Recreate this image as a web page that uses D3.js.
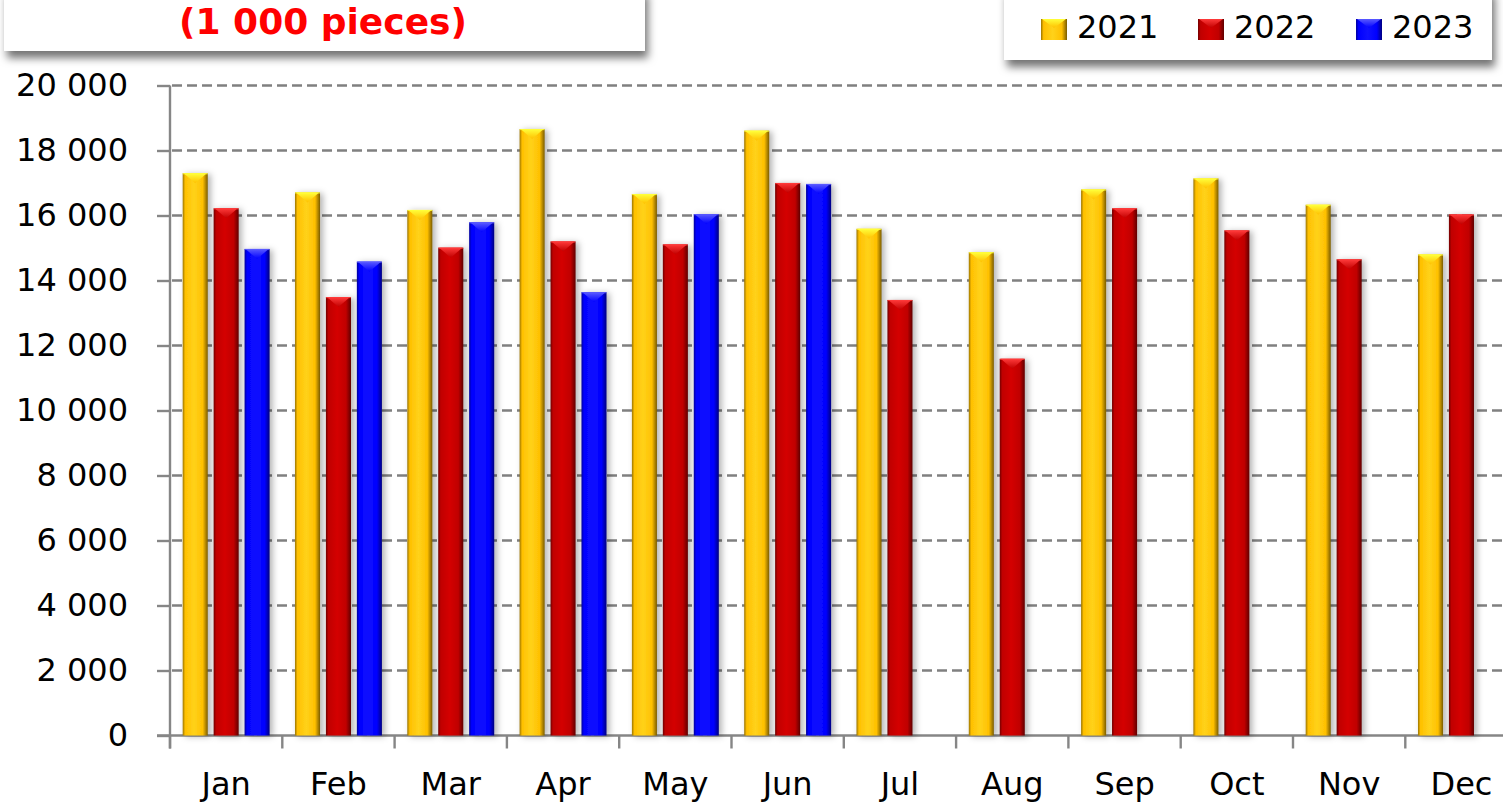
<!DOCTYPE html>
<html>
<head>
<meta charset="utf-8">
<script src="https://cdn.jsdelivr.net/npm/d3@7"></script>
<style>
  html, body { margin: 0; padding: 0; background: #ffffff; overflow: hidden; }
  svg { display: block; }
  text { font-family: "DejaVu Sans", sans-serif; }
</style>
</head>
<body>
<svg id="chart" width="1503" height="802"></svg>
<script>
// ---------- data ----------
const months = ["Jan","Feb","Mar","Apr","May","Jun","Jul","Aug","Sep","Oct","Nov","Dec"];
const series = ["2021","2022","2023"];
const values2021 = [17300,16710,16170,18660,16660,18610,15590,14870,16800,17140,16330,14800];
const values2022 = [16220,13490,15010,15200,15110,17000,13400,11590,16220,15540,14650,16030];
const values2023 = [14970,14580,15790,13640,16040,16970,null,null,null,null,null,null];
const yTickValues = [0,2000,4000,6000,8000,10000,12000,14000,16000,18000,20000];
const unitLabel = "(1 000 pieces)";

const seriesValues = { "2021": values2021, "2022": values2022, "2023": values2023 };
const palette = {
  "2021": { base: "#ffc000", light: "#ffd21a", dark: "#9a7400", cap: "#ffff3a", edge: "#7a5c00" },
  "2022": { base: "#c00000", light: "#d40000", dark: "#700000", cap: "#ff3a3a", edge: "#600000" },
  "2023": { base: "#0000ff", light: "#1010ff", dark: "#00009a", cap: "#5a5aff", edge: "#000080" }
};

const svg = d3.select("#chart");
const defs = svg.append("defs");

// gradients
series.forEach(s => {
  const p = palette[s];
  const g = defs.append("linearGradient").attr("id", "grad" + s)
    .attr("x1", "0%").attr("x2", "100%").attr("y1", "0%").attr("y2", "0%");
  g.append("stop").attr("offset", "0%").attr("stop-color", p.dark);
  g.append("stop").attr("offset", "10%").attr("stop-color", p.base);
  g.append("stop").attr("offset", "45%").attr("stop-color", p.light);
  g.append("stop").attr("offset", "80%").attr("stop-color", p.base);
  g.append("stop").attr("offset", "100%").attr("stop-color", p.edge);
  const c = defs.append("linearGradient").attr("id", "cap" + s)
    .attr("x1", "0%").attr("x2", "0%").attr("y1", "0%").attr("y2", "100%");
  c.append("stop").attr("offset", "0%").attr("stop-color", p.cap);
  c.append("stop").attr("offset", "100%").attr("stop-color", p.base);
});

const barShadow = defs.append("filter").attr("id", "barShadow")
  .attr("x", "-30%").attr("y", "-10%").attr("width", "180%").attr("height", "130%");
barShadow.append("feDropShadow").attr("dx", 3).attr("dy", 1).attr("stdDeviation", 3)
  .attr("flood-color", "#000").attr("flood-opacity", 0.3);

const boxShadow = defs.append("filter").attr("id", "boxShadow")
  .attr("x", "-10%").attr("y", "-30%").attr("width", "120%").attr("height", "170%");
boxShadow.append("feDropShadow").attr("dx", 3).attr("dy", 7).attr("stdDeviation", 4)
  .attr("flood-color", "#000").attr("flood-opacity", 0.55);

// ---------- scales ----------
const x0 = d3.scaleBand().domain(months).range([170, 170 + 12 * 112.3]).padding(0);
const x1 = d3.scaleBand().domain(series).range([0, x0.bandwidth()])
  .paddingInner(0.19).paddingOuter(0.41);
const y = d3.scaleLinear().domain([0, 20000]).range([735.5, 85.5]);

const fmt = d3.formatLocale({ decimal: ",", thousands: " ", grouping: [3], currency: ["", ""] }).format(",d");

// ---------- gridlines ----------
svg.append("g")
  .selectAll("line")
  .data(yTickValues.filter(v => v > 0))
  .join("line")
  .attr("x1", 172).attr("x2", 1503)
  .attr("y1", d => y(d)).attr("y2", d => y(d))
  .attr("stroke", "#808080").attr("stroke-width", 2.6)
  .attr("stroke-dasharray", "10,5");

// ---------- y axis ----------
const yAxis = d3.axisLeft(y).tickValues(yTickValues).tickFormat(fmt).tickSize(13).tickPadding(29);
const gy = svg.append("g").attr("transform", "translate(170,0)").call(yAxis);
gy.select(".domain").remove();
gy.append("line").attr("x1", 0).attr("x2", 0).attr("y1", y(20000)).attr("y2", y(0) + 13)
  .attr("stroke", "#868686").attr("stroke-width", 2.4);
gy.selectAll(".tick line").attr("stroke", "#868686").attr("stroke-width", 2.4);
gy.selectAll(".tick text")
  .attr("font-size", 32).attr("fill", "#000")
  .attr("font-family", "DejaVu Sans, sans-serif");

// ---------- x axis ----------
svg.append("line").attr("x1", 157).attr("x2", 1503).attr("y1", y(0)).attr("y2", y(0))
  .attr("stroke", "#868686").attr("stroke-width", 2.4);
svg.append("g").selectAll("line")
  .data(months)
  .join("line")
  .attr("x1", d => x0(d)).attr("x2", d => x0(d))
  .attr("y1", y(0)).attr("y2", y(0) + 13)
  .attr("stroke", "#868686").attr("stroke-width", 2.4);
svg.append("g").selectAll("text")
  .data(months)
  .join("text")
  .attr("x", d => x0(d) + x0.bandwidth() / 2)
  .attr("y", 795)
  .attr("text-anchor", "middle")
  .attr("font-size", 32)
  .attr("fill", "#000")
  .text(d => d);

// ---------- bars ----------
const flat = [];
months.forEach((m, i) => {
  series.forEach(s => {
    const v = seriesValues[s][i];
    if (v != null) flat.push({ month: m, series: s, value: v });
  });
});

const bars = svg.append("g").selectAll("g.bar")
  .data(flat)
  .join("g").attr("class", "bar");

bars.append("rect")
  .attr("x", d => x0(d.month) + x1(d.series))
  .attr("y", d => y(d.value))
  .attr("width", x1.bandwidth())
  .attr("height", d => y(0) - y(d.value))
  .attr("fill", d => "url(#grad" + d.series + ")")
  .attr("filter", "url(#barShadow)");

bars.append("path")
  .attr("d", d => {
    const bx = x0(d.month) + x1(d.series);
    const w = x1.bandwidth();
    const top = y(d.value);
    return `M${bx + 1},${top}L${bx + w - 1},${top}L${bx + w / 2},${top + 10}Z`;
  })
  .attr("fill", d => "url(#cap" + d.series + ")");

bars.append("line")
  .attr("x1", d => x0(d.month) + x1(d.series))
  .attr("x2", d => x0(d.month) + x1(d.series) + x1.bandwidth())
  .attr("y1", d => y(d.value) + 0.5)
  .attr("y2", d => y(d.value) + 0.5)
  .attr("stroke", d => palette[d.series].cap).attr("stroke-width", 1.2).attr("opacity", 0.8);

// ---------- unit box ----------
svg.append("rect").attr("x", 4).attr("y", -12).attr("width", 641).attr("height", 63)
  .attr("fill", "#fff").attr("filter", "url(#boxShadow)");
svg.append("text").attr("x", 323).attr("y", 34)
  .attr("text-anchor", "middle").attr("font-size", 36).attr("font-weight", "bold")
  .attr("fill", "#ff0000").text(unitLabel);

// ---------- legend ----------
svg.append("rect").attr("x", 1004).attr("y", -12).attr("width", 488).attr("height", 72)
  .attr("fill", "#fff").attr("filter", "url(#boxShadow)");
const legendX = [1041, 1198, 1356];
const lg = svg.append("g").selectAll("g")
  .data(series)
  .join("g")
  .attr("transform", (d, i) => `translate(${legendX[i]},19)`);
lg.append("rect").attr("width", 26).attr("height", 21)
  .attr("fill", d => "url(#grad" + d + ")");
lg.append("path").attr("d", "M1,0L25,0L13,9Z").attr("fill", d => "url(#cap" + d + ")");
lg.append("text").attr("x", 36).attr("y", 19)
  .attr("font-size", 32).attr("fill", "#000").text(d => d);
</script>
</body>
</html>
